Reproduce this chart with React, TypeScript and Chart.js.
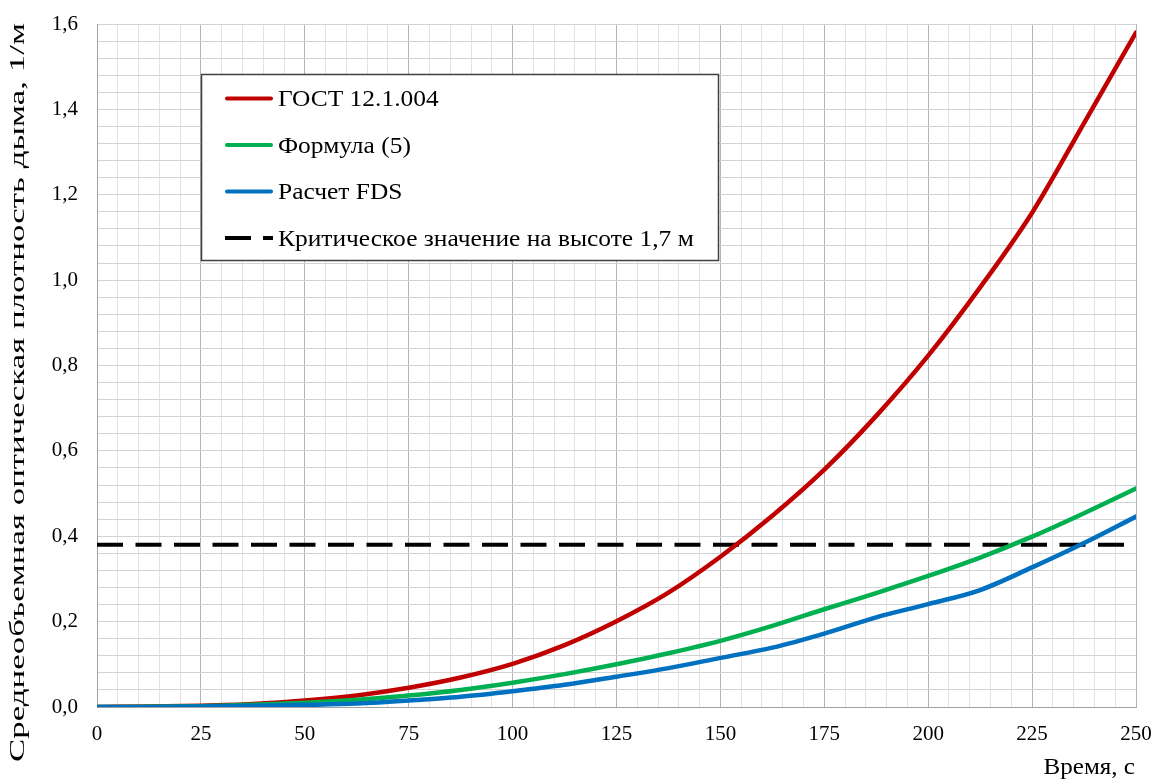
import React, { useEffect, useRef } from 'react';
import { Chart, registerables } from 'chart.js';

Chart.register(...registerables);

// ---- data ----
const timeS = [0, 12.5, 25, 37.5, 50, 62.5, 75, 87.5, 100, 112.5, 125, 137.5, 150, 162.5, 175, 187.5, 200, 212.5, 225, 237.5, 250];
const gostValues = [0, 0.001, 0.003, 0.007, 0.015, 0.027, 0.045, 0.069, 0.101, 0.145, 0.201, 0.268, 0.352, 0.448, 0.556, 0.682, 0.823, 0.983, 1.158, 1.368, 1.58];
const formulaValues = [0, 0.0005, 0.002, 0.005, 0.01, 0.017, 0.027, 0.04, 0.057, 0.077, 0.1, 0.126, 0.155, 0.19, 0.229, 0.267, 0.307, 0.35, 0.399, 0.454, 0.512];
const fdsValues = [0, 0.0002, 0.001, 0.003, 0.005, 0.008, 0.015, 0.024, 0.037, 0.052, 0.071, 0.091, 0.115, 0.139, 0.172, 0.21, 0.241, 0.274, 0.327, 0.384, 0.446];
const criticalTimes = [0, 250];
const criticalValues = [0.38, 0.38];

const seriesLabels = ['ГОСТ 12.1.004', 'Формула (5)', 'Расчет FDS', 'Критическое значение на высоте 1,7 м'];
const seriesColors = ['#C00000', '#00B050', '#0070C0', '#000000'];

const xTickValues = [0, 25, 50, 75, 100, 125, 150, 175, 200, 225, 250];
const yTickLabels = ['0,0', '0,2', '0,4', '0,6', '0,8', '1,0', '1,2', '1,4', '1,6'];

const xTitle = 'Время, с';
const yTitle = 'Среднеобъемная оптическая плотность дыма, 1/м';

const FONT = "'Liberation Serif', 'Times New Roman', serif";

function toPoints(xs: number[], ys: number[]) {
  return xs.map((x, i) => ({ x, y: ys[i] }));
}

const overlayPlugin = {
  id: 'overlay',
  afterDatasetsDraw(chart: any) {
    const ctx: CanvasRenderingContext2D = chart.ctx;
    ctx.save();
    // legend box
    ctx.fillStyle = '#ffffff';
    ctx.fillRect(201.5, 74.5, 517, 186);
    ctx.strokeStyle = '#404040';
    ctx.lineWidth = 1.5;
    ctx.strokeRect(201.5, 74.5, 517, 186);
    const rowY = [98.5, 145, 191.5, 238];
    ctx.font = `24px ${FONT}`;
    ctx.textAlign = 'left';
    ctx.textBaseline = 'middle';
    for (let i = 0; i < seriesLabels.length; i++) {
      ctx.beginPath();
      ctx.strokeStyle = seriesColors[i];
      ctx.lineWidth = 4;
      ctx.lineCap = i === 3 ? 'butt' : 'round';
      ctx.setLineDash(i === 3 ? [26, 12] : []);
      ctx.moveTo(i === 3 ? 225 : 227, rowY[i]);
      ctx.lineTo(i === 3 ? 273 : 271, rowY[i]);
      ctx.stroke();
      ctx.setLineDash([]);
      ctx.fillStyle = '#000000';
      ctx.save();
      ctx.translate(278, rowY[i] + 1.5);
      ctx.scale(1.06, 1);
      ctx.fillText(seriesLabels[i], 0, 0);
      ctx.restore();
    }
    ctx.restore();
  },
  afterDraw(chart: any) {
    const ctx: CanvasRenderingContext2D = chart.ctx;
    ctx.save();
    ctx.fillStyle = '#000000';
    // x title
    ctx.font = `24px ${FONT}`;
    ctx.textAlign = 'right';
    ctx.textBaseline = 'middle';
    ctx.save();
    ctx.translate(1135, 768);
    ctx.scale(1.045, 1);
    ctx.fillText(xTitle, 0, 0);
    ctx.restore();
    // y title (stretched along its length like the reference)
    ctx.font = `20px ${FONT}`;
    ctx.textAlign = 'center';
    ctx.textBaseline = 'middle';
    const w = ctx.measureText(yTitle).width;
    ctx.translate(18.5, 392.5);
    ctx.rotate(-Math.PI / 2);
    ctx.scale(739 / w, 1);
    ctx.fillText(yTitle, 0, 0);
    ctx.restore();
  },
};

export default function App() {
  const canvasRef = useRef<HTMLCanvasElement | null>(null);

  useEffect(() => {
    document.body.style.margin = '0';
    const canvas = canvasRef.current;
    if (!canvas) return;
    const chart = new Chart(canvas, {
      type: 'line',
      data: {
        datasets: [
          {
            label: seriesLabels[3],
            data: toPoints(criticalTimes, criticalValues),
            borderColor: seriesColors[3],
            borderWidth: 4,
            borderDash: [26, 12.5],
            pointRadius: 0,
            fill: false,
            order: 4,
          },
          {
            label: seriesLabels[0],
            data: toPoints(timeS, gostValues),
            borderColor: seriesColors[0],
            borderWidth: 4.5,
            pointRadius: 0,
            cubicInterpolationMode: 'monotone',
            borderCapStyle: 'round',
            fill: false,
            order: 3,
          },
          {
            label: seriesLabels[1],
            data: toPoints(timeS, formulaValues),
            borderColor: seriesColors[1],
            borderWidth: 4.5,
            pointRadius: 0,
            cubicInterpolationMode: 'monotone',
            borderCapStyle: 'round',
            fill: false,
            order: 2,
          },
          {
            label: seriesLabels[2],
            data: toPoints(timeS, fdsValues),
            borderColor: seriesColors[2],
            borderWidth: 4.5,
            pointRadius: 0,
            cubicInterpolationMode: 'monotone',
            borderCapStyle: 'round',
            fill: false,
            order: 1,
          },
        ],
      },
      options: {
        animation: false,
        responsive: false,
        maintainAspectRatio: false,
        events: [],
        layout: { padding: { left: 0, top: 24, right: 19, bottom: 0 } },
        plugins: {
          legend: { display: false },
          tooltip: { enabled: false },
        },
        scales: {
          x: {
            type: 'linear',
            min: 0,
            max: 250,
            afterFit: (s: any) => { s.height = 73; },
            ticks: {
              stepSize: 5,
              maxTicksLimit: 1000,
              autoSkip: false,
              maxRotation: 0,
              padding: 0,
              color: '#000000',
              font: { family: FONT, size: 21 },
              callback: (v: any) => {
                const n = Number(v);
                const idx = xTickValues.findIndex((t) => Math.abs(t - n) < 1e-6);
                return idx >= 0 ? String(xTickValues[idx]) : '';
              },
            },
            grid: {
              drawTicks: true,
              tickLength: 15,
              tickColor: 'rgba(0,0,0,0)',
              lineWidth: 1,
              color: (c: any) => {
                const v = c.tick ? c.tick.value : 0;
                return Math.abs(v / 25 - Math.round(v / 25)) < 1e-6 ? '#b4b4b4' : '#e2e2e2';
              },
            },
            border: { color: '#a0a0a0', width: 1 },
          },
          y: {
            type: 'linear',
            min: 0,
            max: 1.6,
            afterFit: (s: any) => { s.width = 97; },
            ticks: {
              stepSize: 0.04,
              maxTicksLimit: 1000,
              autoSkip: false,
              padding: 0,
              color: '#000000',
              font: { family: FONT, size: 21 },
              callback: (v: any) => {
                const n = Number(v) / 0.2;
                if (Math.abs(n - Math.round(n)) < 1e-6) {
                  return yTickLabels[Math.round(n)] ?? '';
                }
                return '';
              },
            },
            grid: {
              drawTicks: true,
              tickLength: 19,
              tickColor: 'rgba(0,0,0,0)',
              lineWidth: 1,
              color: '#d2d2d2',
            },
            border: { color: '#a0a0a0', width: 1 },
          },
        },
      },
      plugins: [overlayPlugin],
    });
    return () => chart.destroy();
  }, []);

  return (
    <div style={{ position: 'absolute', left: 0, top: 0, width: 1155, height: 780, background: '#ffffff' }}>
      <canvas ref={canvasRef} width={1155} height={780} style={{ width: 1155, height: 780, display: 'block' }} />
    </div>
  );
}
